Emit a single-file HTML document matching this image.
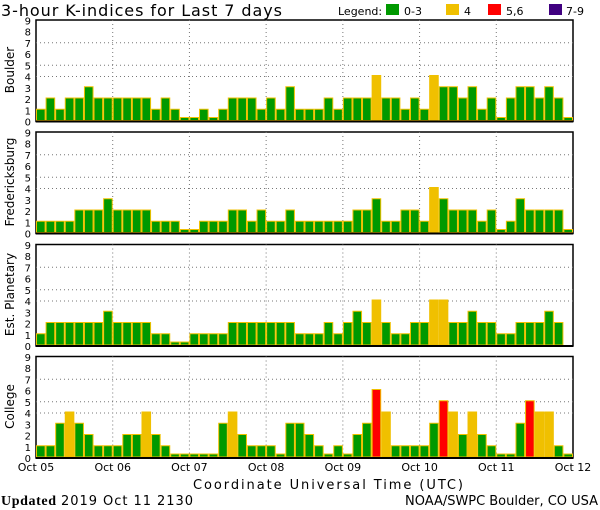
<!DOCTYPE html>
<html><head><meta charset="utf-8"><style>
body{margin:0;background:#fff;}
svg{display:block;font-family:"DejaVu Sans","Liberation Sans",sans-serif;}
</style></head><body>
<svg id="s" width="600" height="510" xmlns="http://www.w3.org/2000/svg">
<rect width="600" height="510" fill="#fff"/>
<text x="1" y="16" font-size="16" fill="#000" textLength="281" lengthAdjust="spacing">3-hour K-indices for Last 7 days</text>
<text x="338" y="15" font-size="11">Legend:</text>
<rect x="386" y="4" width="13" height="11" fill="#009900"/><text x="404" y="15" font-size="11">0-3</text>
<rect x="446" y="4" width="13" height="11" fill="#f0c000"/><text x="464" y="15" font-size="11">4</text>
<rect x="488" y="4" width="13" height="11" fill="#ff0000"/><text x="506" y="15" font-size="11">5,6</text>
<rect x="549" y="4" width="13" height="11" fill="#400080"/><text x="566" y="15" font-size="11">7-9</text>
<g id="g"></g>
<text x="193" y="489" font-size="13" textLength="270" lengthAdjust="spacing">Coordinate Universal Time (UTC)</text>
<text x="1" y="505" font-size="14" font-family="Liberation Serif,serif" font-weight="bold" textLength="55" lengthAdjust="spacing">Updated</text>
<text x="61" y="505" font-size="13" textLength="132" lengthAdjust="spacing">2019 Oct 11 2130</text>
<text x="405" y="505" font-size="13" textLength="193" lengthAdjust="spacing">NOAA/SWPC Boulder, CO USA</text>
</svg>
<script>
var data=[
["Boulder",20,[1,2,1,2,2,3,2,2, 2,2,2,2,1,2,1,0, 0,1,0,1,2,2,2,1, 2,1,3,1,1,1,2,1, 2,2,2,4,2,2,1,2, 1,4,3,3,2,3,1,2, 0,2,3,3,2,3,2,0]],
["Fredericksburg",132,[1,1,1,1,2,2,2,3, 2,2,2,2,1,1,1,0, 0,1,1,1,2,2,1,2, 1,1,2,1,1,1,1,1, 1,2,2,3,1,1,2,2, 1,4,3,2,2,2,1,2, 0,1,3,2,2,2,2,0]],
["Est. Planetary",244.5,[1,2,2,2,2,2,2,3, 2,2,2,2,1,1,0,0, 1,1,1,1,2,2,2,2, 2,2,2,1,1,1,2,1, 2,3,2,4,2,1,1,2, 2,4,4,2,2,3,2,2, 1,1,2,2,2,3,2,-1]],
["College",356.5,[1,1,3,4,3,2,1,1, 1,2,2,4,2,1,0,0, 0,0,0,3,4,2,1,1, 1,0,3,3,2,1,0,1, 0,2,3,6,4,1,1,1, 1,3,5,4,2,4,2,1, 0,0,3,5,4,4,1,0]]
];
var L=36,R=573,W=(R-L)/56,U=11.25,h='';
data.forEach(function(p){
 var t=p[1],z=t+101.5;
 h+='<rect x="'+L+'" y="'+t+'" width="'+(R-L)+'" height="'+(z-t)+'" fill="#fff" stroke="#000" stroke-width="1.5"/>';
 [4,5,7].forEach(function(k){var y=z-k*U;h+='<line x1="'+L+'" x2="'+R+'" y1="'+y+'" y2="'+y+'" stroke="#777" stroke-dasharray="1,3"/>';});
 for(var d=1;d<7;d++){var x=L+d*8*W;h+='<line x1="'+x+'" x2="'+x+'" y1="'+t+'" y2="'+z+'" stroke="#777" stroke-dasharray="1,3"/>';}
 p[2].forEach(function(v,i){
  if(v<0)return;
  var x=L+i*W,hh=v==0?3:v*U,c=v<=3?'#009900':v==4?'#f0c000':v<=6?'#ff0000':'#400080';
  h+='<rect x="'+(x+0.5)+'" y="'+(z-1-hh)+'" width="'+(W-1)+'" height="'+hh+'" fill="'+c+'" stroke="#f0c000" stroke-width="1"/>';
 });
 h+='<line x1="'+L+'" x2="'+R+'" y1="'+z+'" y2="'+z+'" stroke="#000" stroke-width="2"/>';
 for(var k=0;k<=9;k++){h+='<text x="31" y="'+(z-k*U+4)+'" font-size="10" text-anchor="end">'+k+'</text>';}
 var cy=t+50;h+='<text transform="translate(14,'+cy+') rotate(-90)" font-size="12" text-anchor="middle">'+p[0]+'</text>';
});
var days=["Oct 05","Oct 06","Oct 07","Oct 08","Oct 09","Oct 10","Oct 11","Oct 12"];
days.forEach(function(s,i){h+='<text x="'+(L+i*8*W)+'" y="471" font-size="11" text-anchor="middle">'+s+'</text>';});
document.getElementById('g').innerHTML=h;
</script>
</body></html>
